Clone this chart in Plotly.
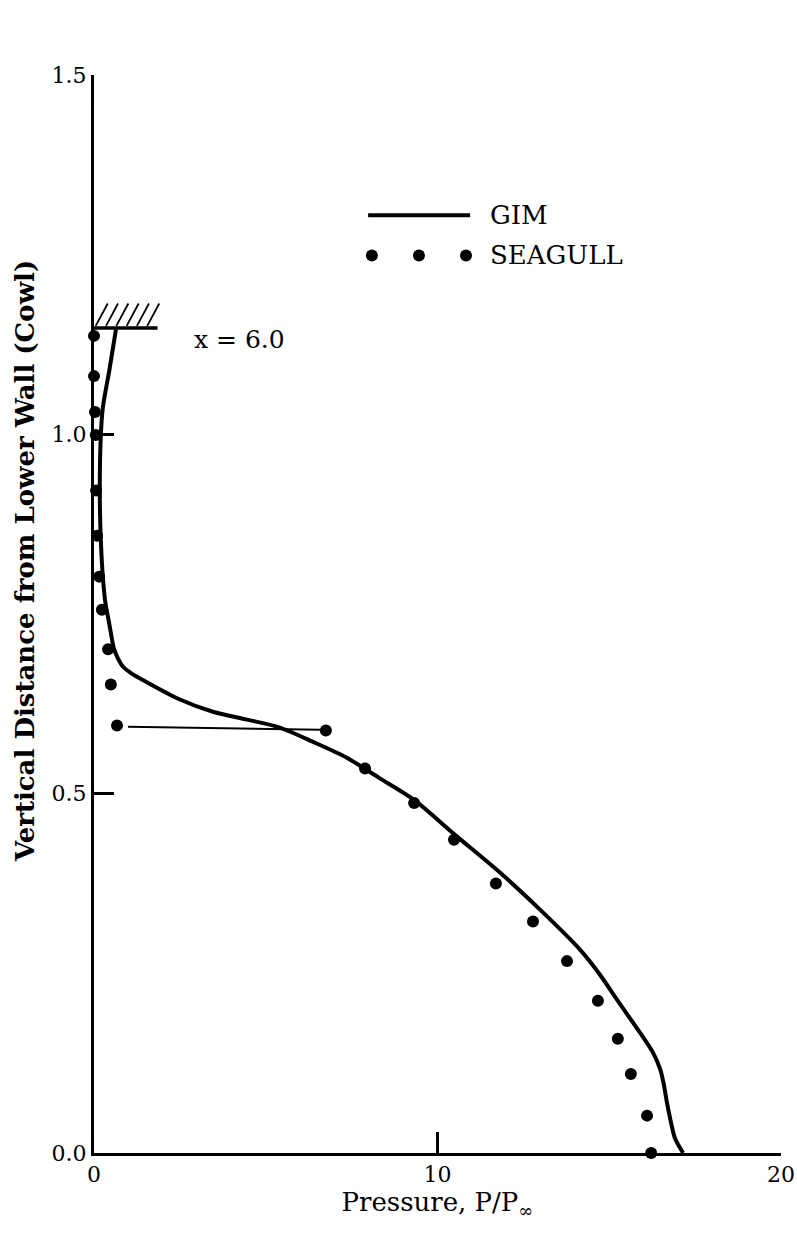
import plotly.graph_objects as go

# ---------------- data ----------------
gim_p = [0.64, 0.45, 0.26, 0.20, 0.17, 0.22, 0.32, 0.45, 0.58, 0.70, 0.84, 1.10, 1.54, 2.5,
         3.46, 4.45, 5.41, 6.38, 7.36, 8.3, 9.3, 10.5, 11.8, 13.0, 14.15, 14.73, 15.23, 15.9,
         16.27, 16.48, 16.59, 16.68, 16.80, 16.91, 17.15]
gim_y = [1.146, 1.09, 1.038, 1.0, 0.909, 0.83, 0.770, 0.735, 0.702, 0.688, 0.677, 0.667,
         0.655, 0.631, 0.614, 0.603, 0.592, 0.572, 0.550, 0.522, 0.492, 0.443, 0.391, 0.338,
         0.283, 0.248, 0.213, 0.167, 0.140, 0.117, 0.095, 0.070, 0.042, 0.021, 0.0]

seagull_p = [0.0, 0.0, 0.03, 0.05, 0.06, 0.09, 0.15, 0.23, 0.41, 0.49, 0.67, 6.75, 7.89,
             9.32, 10.48, 11.70, 12.78, 13.77, 14.67, 15.25, 15.63, 16.10, 16.22]
seagull_y = [1.137, 1.081, 1.031, 0.999, 0.922, 0.859, 0.802, 0.756, 0.701, 0.652, 0.595,
             0.588, 0.535, 0.487, 0.436, 0.375, 0.322, 0.267, 0.212, 0.159, 0.110, 0.052, 0.0]

# shock jump connecting line (SEAGULL)
jump_p = [0.99, 6.6]
jump_y = [0.593, 0.589]

# cowl wall
cowl_y = 1.148
cowl_p_end = 1.85

x_ticks = [0, 10, 20]
y_ticks = [0.0, 0.5, 1.0, 1.5]
y_ticklabels = ["0.0", "0.5", "1.0", "1.5"]

FONT = "DejaVu Serif"

fig = go.Figure()

# cowl wall and hatch
fig.add_trace(go.Scatter(x=[0, cowl_p_end], y=[cowl_y, cowl_y], mode="lines",
                         line=dict(color="black", width=3.5), showlegend=False, hoverinfo="skip",
                         cliponaxis=False))
hx, hy = [], []
n_hatch = 6
for i in range(n_hatch):
    x0 = 0.05 + i * (cowl_p_end - 0.35) / (n_hatch - 1)
    hx += [x0, x0 + 0.35, None]
    hy += [cowl_y + 0.003, cowl_y + 0.034, None]
fig.add_trace(go.Scatter(x=hx, y=hy, mode="lines", line=dict(color="black", width=1.8),
                         showlegend=False, hoverinfo="skip", cliponaxis=False))

# jump line
fig.add_trace(go.Scatter(x=jump_p, y=jump_y, mode="lines", line=dict(color="black", width=2),
                         showlegend=False))

# GIM
fig.add_trace(go.Scatter(x=gim_p, y=gim_y, mode="lines", name="GIM",
                         line=dict(color="black", width=4, shape="spline", smoothing=0.8),
                         showlegend=False, cliponaxis=False))
# SEAGULL
fig.add_trace(go.Scatter(x=seagull_p, y=seagull_y, mode="markers", name="SEAGULL",
                         marker=dict(color="black", size=12), showlegend=False, cliponaxis=False))

# legend (drawn)
leg_line_x = [7.98, 10.95]
leg_line_y = 1.305
leg_dot_x = [8.09, 9.46, 10.83]
leg_dot_y = 1.249
fig.add_trace(go.Scatter(x=leg_line_x, y=[leg_line_y] * 2, mode="lines",
                         line=dict(color="black", width=4), showlegend=False))
fig.add_trace(go.Scatter(x=leg_dot_x, y=[leg_dot_y] * 3, mode="markers",
                         marker=dict(color="black", size=12), showlegend=False))
fig.add_annotation(x=11.48, y=leg_line_y, text="GIM", showarrow=False, xanchor="left",
                   font=dict(family=FONT, size=26, color="black"))
fig.add_annotation(x=11.48, y=leg_dot_y, text="SEAGULL", showarrow=False, xanchor="left",
                   font=dict(family=FONT, size=26, color="black"))
fig.add_annotation(x=2.85, y=1.132, text="x = 6.0", showarrow=False, xanchor="left",
                   font=dict(family=FONT, size=25, color="black"))

# y-axis title as annotation (centred where the reference puts it)
fig.add_annotation(xref="paper", x=-0.1, y=0.824, yref="y",
                   text="<b>Vertical Distance from Lower Wall (Cowl)</b>", textangle=-90,
                   showarrow=False, xanchor="center", yanchor="middle",
                   font=dict(family=FONT, size=26, color="black"))

fig.update_layout(
    width=797, height=1237, autosize=False,
    margin=dict(l=94, r=16, t=75, b=84),
    paper_bgcolor="white", plot_bgcolor="white",
    font=dict(family=FONT, color="black", size=22),
    xaxis=dict(range=[0, 20], tickvals=x_ticks, ticktext=[str(v) for v in x_ticks],
               automargin=False,
               showgrid=False, zeroline=False, showline=True, linecolor="black", linewidth=3,
               ticks="inside", ticklen=21, tickwidth=3, tickcolor="black",
               tickfont=dict(family=FONT, size=22),
               title=dict(text="Pressure, P/P<sub>∞</sub>", font=dict(family=FONT, size=26),
                          standoff=4)),
    yaxis=dict(range=[0, 1.5], tickvals=y_ticks, ticktext=y_ticklabels,
               automargin=False,
               showgrid=False, zeroline=False, showline=True, linecolor="black", linewidth=3,
               ticks="inside", ticklen=20, tickwidth=3, tickcolor="black",
               tickfont=dict(family=FONT, size=22)),
)

fig.write_html("out.html", config={"responsive": False})
